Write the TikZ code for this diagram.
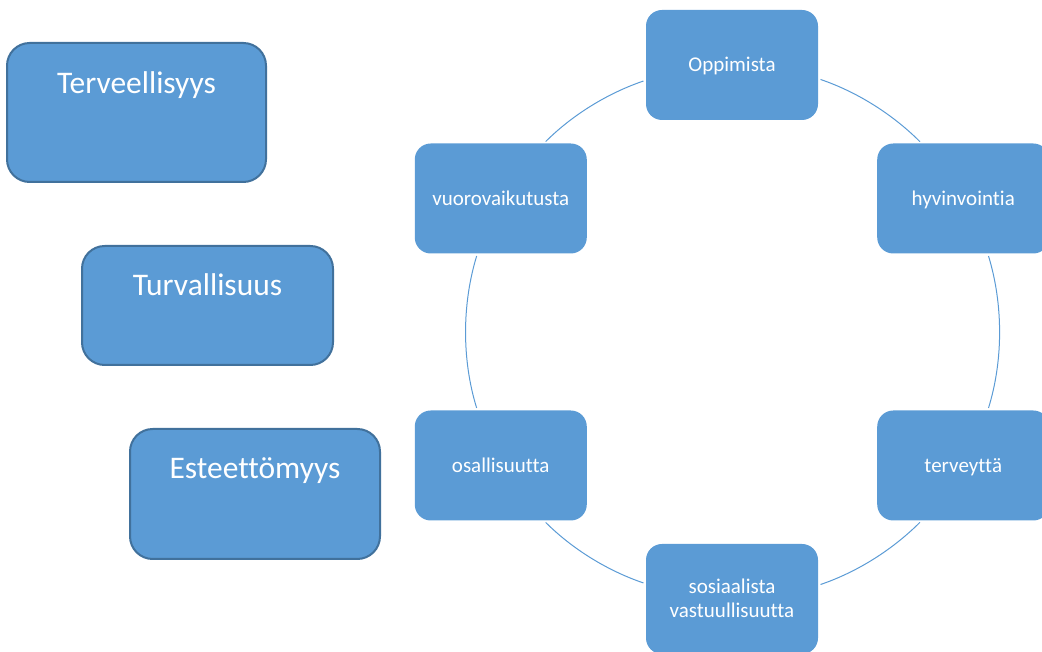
\documentclass[tikz,border=0pt]{standalone}
\usepackage{fontspec}
\setmainfont[Ligatures=NoCommon]{Carlito}
\usetikzlibrary{calc}
\definecolor{boxblue}{HTML}{5B9BD5}
\definecolor{edgeblue}{HTML}{41719C}
\tikzstyle{every picture}+=[x=0.75pt,y=0.75pt]
\tikzstyle{item}=[rectangle, rounded corners=12pt, fill=boxblue, text=white]
\tikzstyle{item}+=[minimum width=129pt, minimum height=82.5pt, outer sep=0pt]
\tikzstyle{item}+=[text height=12pt, text depth=2.2pt]
\tikzstyle{item}+=[align=center, font=\fontsize{15.75}{18}\selectfont]
\tikzstyle{topic}=[rectangle, rounded corners=17pt, fill=boxblue, draw=edgeblue]
\tikzstyle{topic}+=[line width=1.5pt, text=white, inner sep=0pt]
\tikzstyle{topic}+=[font=\fontsize{23.6}{28}\selectfont]
\tikzstyle{ring}=[draw=boxblue, line width=0.75pt, looseness=0.865]
\tikzstyle{ring}+=[shorten <=2pt, shorten >=2pt]

\begin{document}
\begin{tikzpicture}
\clip (0,0) rectangle (1042,652);
\coordinate (ctr) at (732,320);

\node[item] (oppimista)     at ([shift={(90:267)}]ctr)  {Oppimista};
\node[item] (hyvinvointi)   at ([shift={(30:267)}]ctr)  {hyvinvointia};
\node[item] (terveys)       at ([shift={(-30:267)}]ctr) {terveyttä};
\node[item, text height=30pt] (vastuu) at ([shift={(-90:267)}]ctr) {sosiaalista\\vastuullisuutta};
\node[item] (osallisuus)    at ([shift={(210:267)}]ctr) {osallisuutta};
\node[item] (vuorovaikutus) at ([shift={(150:267)}]ctr) {vuorovaikutusta};

\node[topic, minimum width=194.25pt, minimum height=104.25pt, text height=38pt, text depth=66.25pt]
  (terveellisyys) at (136.5,539.5) {Terveellisyys};
\node[topic, minimum width=188.25pt, minimum height=89.25pt, text height=37.25pt, text depth=52pt]
  (turvallisuus) at (207.5,346.5) {Turvallisuus};
\node[topic, minimum width=187.5pt, minimum height=97.5pt, text height=37.25pt, text depth=60.25pt]
  (esteettomyys) at (255,158) {Esteettömyys};

\path[ring]
   (oppimista.-9.4)       edge[out=-18.8, in=135.1]  (hyvinvointi.127.4)
   (hyvinvointi.-66.3)    edge[out=-73, in=72.8]     (terveys.66.4)
   (terveys.-127.4)       edge[out=-135.1, in=18.8]  (vastuu.9.4)
   (vastuu.170.6)         edge[out=161.2, in=-44.9]  (osallisuus.-52.6)
   (osallisuus.113.6)     edge[out=107.2, in=-107]   (vuorovaikutus.-113.7)
   (vuorovaikutus.52.6)   edge[out=44.9, in=-161.2]  (oppimista.-170.6)
;
\end{tikzpicture}
\end{document}
